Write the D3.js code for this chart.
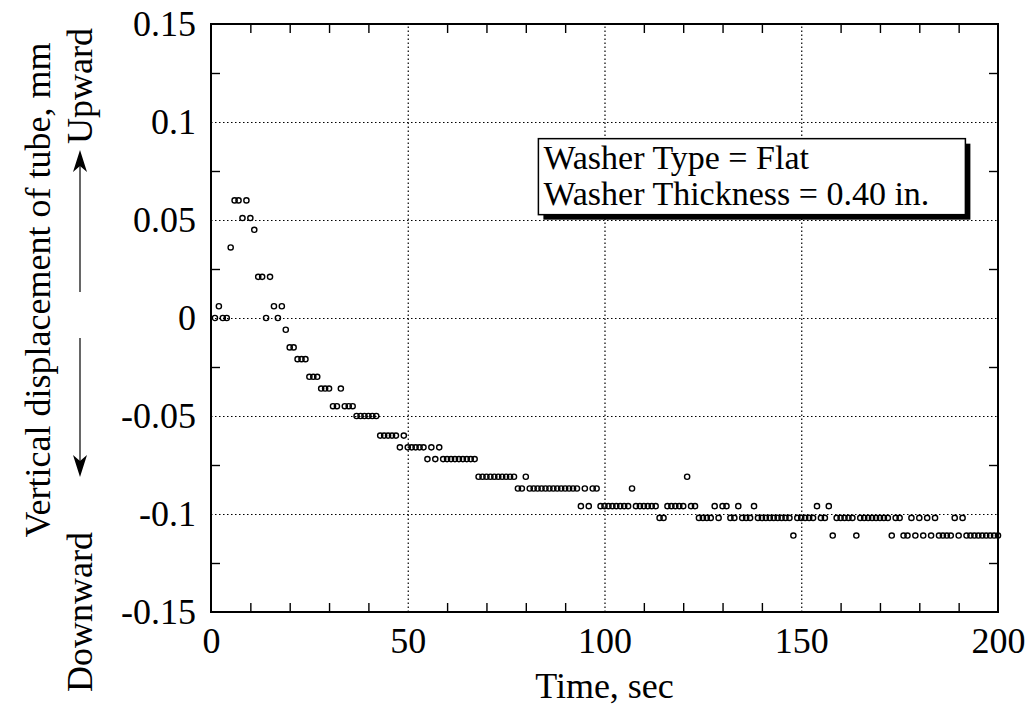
<!DOCTYPE html>
<html>
<head>
<meta charset="utf-8">
<script src="https://cdnjs.cloudflare.com/ajax/libs/d3/7.8.5/d3.min.js"></script>
<style>
body { margin: 0; background: #fff; }
svg text { font-family: "Liberation Serif", "Times New Roman", serif; fill: #000; }
.grid line { stroke: #000; stroke-width: 1.2; stroke-dasharray: 1.5, 2.5; }
.grid path, .minor path, .labels path { display: none; }
.minor line { stroke: #000; stroke-width: 1.4; }
.pt { fill: none; stroke: #000; stroke-width: 1.4; }
</style>
</head>
<body>
<div id="chart"></div>
<script>
// time of each reading (sec)
var timeSec = [
  1, 2, 3, 4, 5, 6, 7, 8, 9, 10, 11, 12, 13, 14, 15, 16, 17, 18, 19, 20,
  21, 22, 23, 24, 25, 26, 27, 28, 29, 30, 31, 32, 33, 34, 35, 36, 37, 38, 39, 40,
  41, 42, 43, 44, 45, 46, 47, 48, 49, 50, 51, 52, 53, 54, 55, 56, 57, 58, 59, 60,
  61, 62, 63, 64, 65, 66, 67, 68, 69, 70, 71, 72, 73, 74, 75, 76, 77, 78, 79, 80,
  81, 82, 83, 84, 85, 86, 87, 88, 89, 90, 91, 92, 93, 94, 95, 96, 97, 98, 99, 100,
  101, 102, 103, 104, 105, 106, 107, 108, 109, 110, 111, 112, 113, 114, 115, 116, 117, 118, 119, 120,
  121, 122, 123, 124, 125, 126, 127, 128, 129, 130, 131, 132, 133, 134, 135, 136, 137, 138, 139, 140,
  141, 142, 143, 144, 145, 146, 147, 148, 149, 150, 151, 152, 153, 154, 155, 156, 157, 158, 159, 160,
  161, 162, 163, 164, 165, 166, 167, 168, 169, 170, 171, 172, 173, 174, 175, 176, 177, 178, 179, 180,
  181, 182, 183, 184, 185, 186, 187, 188, 189, 190, 191, 192, 193, 194, 195, 196, 197, 198, 199, 200
];

// vertical displacement of tube (mm)
var displacement = [
  0, 0.006, 0, 0, 0.036, 0.06, 0.06, 0.051, 0.06, 0.051,
  0.045, 0.021, 0.021, 0, 0.021, 0.006, 0, 0.006, -0.006, -0.015,
  -0.015, -0.021, -0.021, -0.021, -0.030, -0.030, -0.030, -0.036, -0.036, -0.036,
  -0.045, -0.045, -0.036, -0.045, -0.045, -0.045, -0.050, -0.050, -0.050, -0.050,
  -0.050, -0.050, -0.060, -0.060, -0.060, -0.060, -0.060, -0.066, -0.060, -0.066,
  -0.066, -0.066, -0.066, -0.066, -0.072, -0.066, -0.072, -0.066, -0.072, -0.072,
  -0.072, -0.072, -0.072, -0.072, -0.072, -0.072, -0.072, -0.081, -0.081, -0.081,
  -0.081, -0.081, -0.081, -0.081, -0.081, -0.081, -0.081, -0.087, -0.087, -0.081,
  -0.087, -0.087, -0.087, -0.087, -0.087, -0.087, -0.087, -0.087, -0.087, -0.087,
  -0.087, -0.087, -0.087, -0.096, -0.087, -0.096, -0.087, -0.087, -0.096, -0.096,
  -0.096, -0.096, -0.096, -0.096, -0.096, -0.096, -0.087, -0.096, -0.096, -0.096,
  -0.096, -0.096, -0.096, -0.102, -0.102, -0.096, -0.096, -0.096, -0.096, -0.096,
  -0.081, -0.096, -0.096, -0.102, -0.102, -0.102, -0.102, -0.096, -0.102, -0.096,
  -0.096, -0.102, -0.102, -0.096, -0.102, -0.102, -0.102, -0.096, -0.102, -0.102,
  -0.102, -0.102, -0.102, -0.102, -0.102, -0.102, -0.102, -0.111, -0.102, -0.102,
  -0.102, -0.102, -0.102, -0.096, -0.102, -0.102, -0.096, -0.111, -0.102, -0.102,
  -0.102, -0.102, -0.102, -0.111, -0.102, -0.102, -0.102, -0.102, -0.102, -0.102,
  -0.102, -0.102, -0.111, -0.102, -0.102, -0.111, -0.111, -0.102, -0.111, -0.102,
  -0.111, -0.102, -0.111, -0.102, -0.111, -0.111, -0.111, -0.111, -0.102, -0.111,
  -0.102, -0.111, -0.111, -0.111, -0.111, -0.111, -0.111, -0.111, -0.111, -0.111
];

var xTicks = [0, 50, 100, 150, 200];
var xMinor = [10, 20, 30, 40, 60, 70, 80, 90, 110, 120, 130, 140, 160, 170, 180, 190];
var xGrid = [50, 100, 150];
var yTicks = [0.15, 0.1, 0.05, 0, -0.05, -0.1, -0.15];
var yTickLabels = ["0.15", "0.1", "0.05", "0", "-0.05", "-0.1", "-0.15"];
var yMinor = [0.125, 0.075, 0.025, -0.025, -0.075, -0.125];
var yGrid = [0.1, 0.05, 0, -0.05, -0.1];
var legendLines = ["Washer Type = Flat", "Washer Thickness = 0.40 in."];

var width = 1026, height = 715;
var margin = {top: 24, right: 28, bottom: 103, left: 211};
var w = width - margin.left - margin.right;
var h = height - margin.top - margin.bottom;
var fs = "36px";

var svg = d3.select("#chart").append("svg")
    .attr("width", width)
    .attr("height", height);

var g = svg.append("g")
    .attr("transform", "translate(" + margin.left + "," + margin.top + ")");

var x = d3.scaleLinear().domain([0, 200]).range([0, w]);
var y = d3.scaleLinear().domain([-0.15, 0.15]).range([h, 0]);

// dotted grid
g.append("g").attr("class", "grid")
  .attr("transform", "translate(0," + h + ")")
  .call(d3.axisBottom(x).tickValues(xGrid).tickSize(-h).tickFormat(""));
g.append("g").attr("class", "grid")
  .call(d3.axisLeft(y).tickValues(yGrid).tickSize(-w).tickFormat(""));

// minor ticks, pointing inward on all four sides
g.append("g").attr("class", "minor")
  .attr("transform", "translate(0," + h + ")")
  .call(d3.axisBottom(x).tickValues(xMinor).tickSize(-9).tickFormat(""));
g.append("g").attr("class", "minor")
  .call(d3.axisTop(x).tickValues(xMinor).tickSize(-9).tickFormat(""));
g.append("g").attr("class", "minor")
  .call(d3.axisLeft(y).tickValues(yMinor).tickSize(-9).tickFormat(""));
g.append("g").attr("class", "minor")
  .attr("transform", "translate(" + w + ",0)")
  .call(d3.axisRight(y).tickValues(yMinor).tickSize(-9).tickFormat(""));

// frame
g.append("rect")
  .attr("width", w).attr("height", h)
  .attr("fill", "none").attr("stroke", "#000").attr("stroke-width", 2);

// tick labels
var xl = g.append("g").attr("class", "labels")
  .attr("transform", "translate(0," + h + ")")
  .call(d3.axisBottom(x).tickValues(xTicks).tickSize(0).tickPadding(15));
xl.selectAll("text").style("font-size", fs);
xl.selectAll("line").remove();

var yl = g.append("g").attr("class", "labels")
  .call(d3.axisLeft(y).tickValues(yTicks).tickSize(0).tickPadding(15)
    .tickFormat(function (d, i) { return yTickLabels[i]; }));
yl.selectAll("text").style("font-size", fs);
yl.selectAll("line").remove();

// points
g.append("g").selectAll("circle")
  .data(timeSec)
  .enter()
  .append("circle")
  .attr("class", "pt")
  .attr("cx", function (d) { return x(d); })
  .attr("cy", function (d, i) { return y(displacement[i]); })
  .attr("r", 2.6);

// legend box with drop shadow
var lg = g.append("g").attr("transform", "translate(" + x(83.2) + "," + y(0.0915) + ")");
lg.append("rect").attr("x", 5).attr("y", 5).attr("width", 427).attr("height", 76).attr("fill", "#000");
lg.append("rect").attr("width", 427).attr("height", 76)
  .attr("fill", "#fff").attr("stroke", "#000").attr("stroke-width", 1.5);
lg.selectAll("text.leg")
  .data(legendLines)
  .enter()
  .append("text")
  .attr("class", "leg")
  .attr("x", 5)
  .attr("y", function (d, i) { return 30 + i * 36; })
  .style("font-size", "34px")
  .text(function (d) { return d; });

// axis titles
svg.append("text")
  .attr("x", margin.left + w / 2)
  .attr("y", 698)
  .attr("text-anchor", "middle")
  .style("font-size", fs)
  .text("Time, sec");

svg.append("text")
  .attr("transform", "translate(50,290) rotate(-90)")
  .attr("text-anchor", "middle")
  .style("font-size", fs)
  .text("Vertical displacement of tube, mm");

svg.append("text")
  .attr("transform", "translate(92,144) rotate(-90)")
  .attr("text-anchor", "start")
  .style("font-size", fs)
  .text("Upward");

svg.append("text")
  .attr("transform", "translate(92,692) rotate(-90)")
  .attr("text-anchor", "start")
  .style("font-size", fs)
  .text("Downward");

// direction arrows
svg.append("line").attr("x1", 80).attr("x2", 80).attr("y1", 292).attr("y2", 162)
  .attr("stroke", "#000").attr("stroke-width", 1.2);
svg.append("path").attr("d", "M80,150 L73,172 L80,166 L87,172 Z").attr("fill", "#000");
svg.append("line").attr("x1", 80).attr("x2", 80).attr("y1", 338).attr("y2", 465)
  .attr("stroke", "#000").attr("stroke-width", 1.2);
svg.append("path").attr("d", "M80,477 L73,455 L80,461 L87,455 Z").attr("fill", "#000");
</script>
</body>
</html>
